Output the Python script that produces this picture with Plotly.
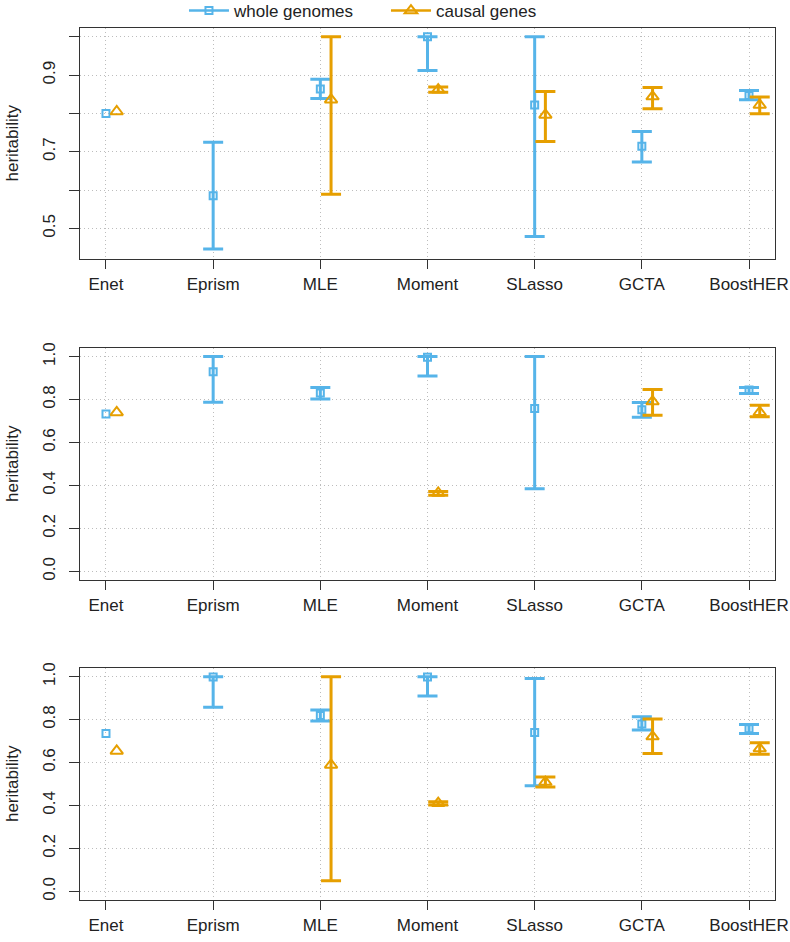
import plotly.graph_objects as go

methods = ["Enet", "Eprism", "MLE", "Moment", "SLasso", "GCTA", "BoostHER"]

# Panel 1
whole_est1 = [0.800, 0.585, 0.864, 1.000, 0.822, 0.714, 0.847]
whole_lo1 = [None, 0.446, 0.839, 0.912, 0.479, 0.673, 0.836]
whole_hi1 = [None, 0.725, 0.889, 1.000, 1.000, 0.753, 0.860]
causal_est1 = [0.805, None, 0.836, 0.862, 0.796, 0.844, 0.822]
causal_lo1 = [None, None, 0.589, 0.855, 0.727, 0.812, 0.799]
causal_hi1 = [None, None, 1.000, 0.869, 0.857, 0.868, 0.843]

# Panel 2
whole_est2 = [0.733, 0.930, 0.830, 0.997, 0.758, 0.752, 0.844]
whole_lo2 = [None, 0.788, 0.803, 0.910, 0.385, 0.718, 0.828]
whole_hi2 = [None, 1.000, 0.856, 1.000, 1.000, 0.786, 0.856]
causal_est2 = [0.740, None, None, 0.365, None, 0.791, 0.741]
causal_lo2 = [None, None, None, 0.355, None, 0.727, 0.720]
causal_hi2 = [None, None, None, 0.372, None, 0.847, 0.774]

# Panel 3
whole_est3 = [0.735, 0.998, 0.819, 0.998, 0.740, 0.780, 0.757]
whole_lo3 = [None, 0.858, 0.794, 0.910, 0.492, 0.752, 0.735]
whole_hi3 = [None, 1.000, 0.845, 1.000, 0.991, 0.813, 0.777]
causal_est3 = [0.654, None, 0.589, 0.411, 0.509, 0.721, 0.665]
causal_lo3 = [None, None, 0.050, 0.402, 0.486, 0.642, 0.639]
causal_hi3 = [None, None, 1.000, 0.418, 0.533, 0.803, 0.692]

panel1_ticks = [0.5, 0.6, 0.7, 0.8, 0.9, 1.0]
panel1_ticktext = ["0.5", "", "0.7", "", "0.9", ""]
panel23_ticks = [0.0, 0.2, 0.4, 0.6, 0.8, 1.0]
panel23_ticktext = ["0.0", "0.2", "0.4", "0.6", "0.8", "1.0"]

series_names = ["whole genomes", "causal genes"]
y_title = "heritability"

BLUE = "#56B4E9"
ORANGE = "#E69F00"
OFFSET = 0.1
FONT = "Liberation Sans, Arial, sans-serif"
TXT = "#222222"

panels = [
    (whole_est1, whole_lo1, whole_hi1, causal_est1, causal_lo1, causal_hi1, [0.42, 1.023], panel1_ticks, panel1_ticktext),
    (whole_est2, whole_lo2, whole_hi2, causal_est2, causal_lo2, causal_hi2, [-0.04, 1.04], panel23_ticks, panel23_ticktext),
    (whole_est3, whole_lo3, whole_hi3, causal_est3, causal_lo3, causal_hi3, [-0.04, 1.04], panel23_ticks, panel23_ticktext),
]

# plot area: margins l=80, r=15, t=28, b=42 -> 695 x 872 px
domains = [[0.7351, 1.0], [0.367, 0.633], [0.0, 0.266]]

fig = go.Figure()
xs = list(range(1, len(methods) + 1))


def add_series(est, lo, hi, shift, color, symbol, size, ax):
    xe, ye, up, dn = [], [], [], []
    xn, yn = [], []
    for x, e, l, h in zip(xs, est, lo, hi):
        if e is None:
            continue
        if l is not None and h is not None:
            xe.append(x + shift); ye.append(e); up.append(h - e); dn.append(e - l)
        else:
            xn.append(x + shift); yn.append(e)
    mk = dict(symbol=symbol, size=size, color=color, line=dict(width=2, color=color))
    if xe:
        fig.add_trace(go.Scatter(
            x=xe, y=ye, mode="markers", xaxis="x" + ax, yaxis="y" + ax, marker=mk,
            error_y=dict(type="data", symmetric=False, array=up, arrayminus=dn,
                         color=color, thickness=3, width=10),
            showlegend=False, cliponaxis=False))
    if xn:
        fig.add_trace(go.Scatter(
            x=xn, y=yn, mode="markers", xaxis="x" + ax, yaxis="y" + ax, marker=mk,
            showlegend=False, cliponaxis=False))


for i, (we, wl, wh, ce, cl, ch, yr, tv, tt) in enumerate(panels):
    ax = "" if i == 0 else str(i + 1)
    add_series(we, wl, wh, 0.0, BLUE, "square-open", 7, ax)
    add_series(ce, cl, ch, OFFSET, ORANGE, "triangle-up-open", 11, ax)

    axis_common = dict(showline=True, mirror=True, linecolor="#333333", linewidth=1.3,
                       ticks="outside", tickcolor="#333333", tickwidth=1.3,
                       showgrid=True, gridcolor="#bdbdbd", griddash="1px,3px", gridwidth=1,
                       zeroline=False, automargin=False,
                       tickfont=dict(family=FONT, size=17, color=TXT))
    fig.update_layout(**{
        "xaxis" + ax: dict(axis_common, domain=[0, 1], range=[0.7575, 7.2425],
                           tickvals=xs, ticktext=methods, ticklen=9,
                           ticklabelstandoff=0,
                           anchor="y" + ax),
        "yaxis" + ax: dict(axis_common, domain=domains[i], range=yr,
                           tickvals=tv, ticktext=tt, ticklen=10, tickangle=-90,
                           ticklabelstandoff=7,
                           anchor="x" + ax),
    })
    fig.add_annotation(text=y_title, xref="paper", yref="paper",
                       x=-0.0978, y=sum(domains[i]) / 2, xanchor="center", yanchor="middle",
                       textangle=-90, showarrow=False,
                       font=dict(family=FONT, size=17, color=TXT))

# legend entries
fig.add_trace(go.Scatter(x=[None], y=[None], mode="lines+markers", name=series_names[0],
                         line=dict(color=BLUE, width=2.5),
                         marker=dict(symbol="square-open", size=7, color=BLUE, line=dict(width=2, color=BLUE))))
fig.add_trace(go.Scatter(x=[None], y=[None], mode="lines+markers", name=series_names[1],
                         line=dict(color=ORANGE, width=2.5),
                         marker=dict(symbol="triangle-up-open", size=11, color=ORANGE, line=dict(width=2, color=ORANGE))))

fig.update_layout(
    width=790, height=942,
    margin=dict(l=80, r=15, t=28, b=42, autoexpand=False),
    paper_bgcolor="white", plot_bgcolor="white",
    font=dict(family=FONT, size=17, color=TXT),
    showlegend=True,
    legend=dict(orientation="h", x=0.1496, xanchor="left", y=1.0195, yanchor="middle",
                font=dict(family=FONT, size=17, color=TXT),
                bgcolor="rgba(0,0,0,0)", itemwidth=40, entrywidth=147, entrywidthmode="pixels",
                tracegroupgap=0),
)

# remove the default 8px page margin so the 790x942 figure fills the window exactly
fig.write_html("out.html", config={"displayModeBar": False},
               post_script="document.body.style.margin='0px';")
